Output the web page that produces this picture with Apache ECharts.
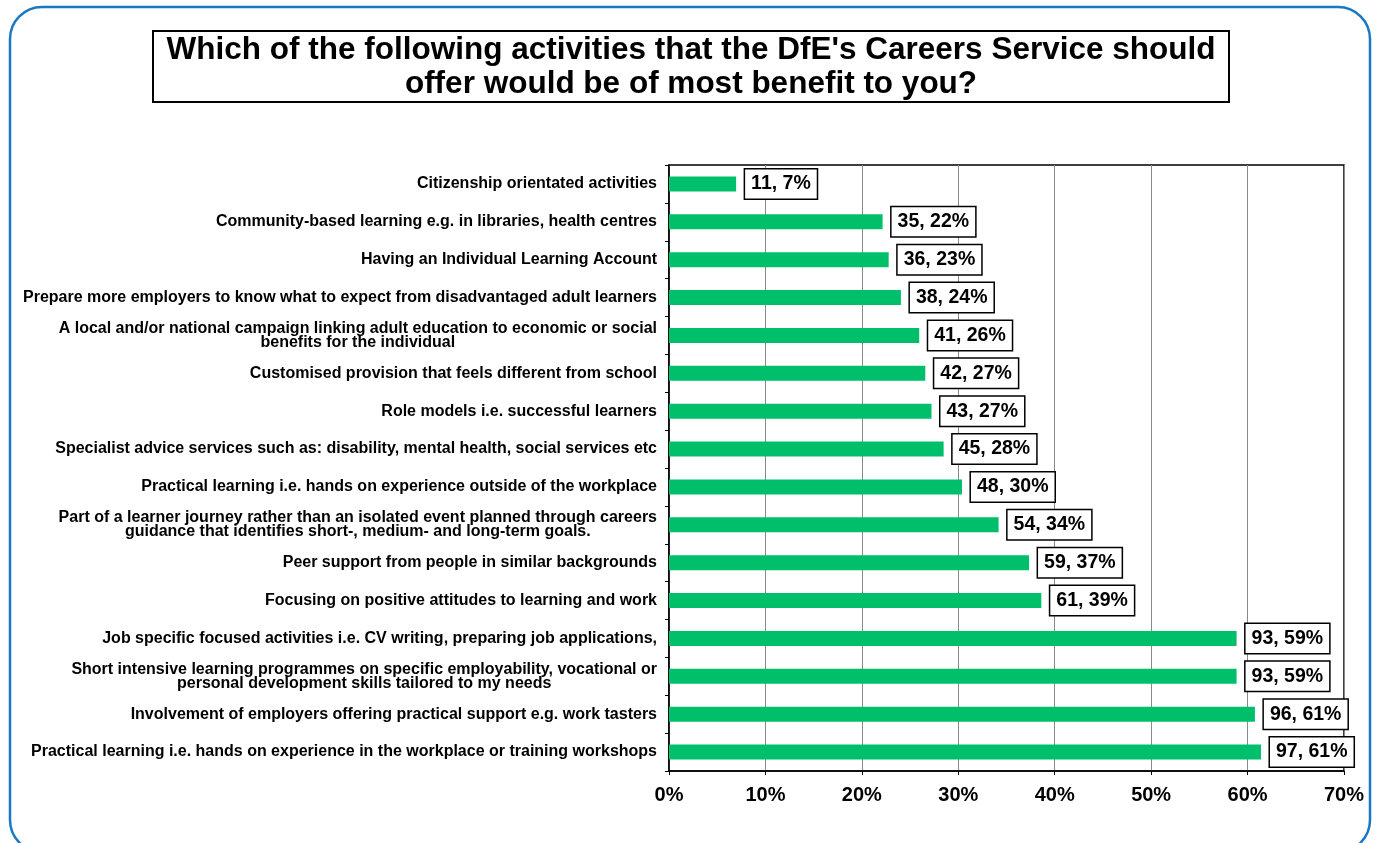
<!DOCTYPE html>
<html><head><meta charset="utf-8">
<script src="https://cdn.jsdelivr.net/npm/echarts@6/dist/echarts.min.js"></script>
<style>html,body{margin:0;padding:0;background:#fff}#c{width:1377px;height:843px}</style>
</head><body><div id="c"></div>
<script>
const categories = [
  "Citizenship orientated activities",
  "Community-based learning e.g. in libraries, health centres",
  "Having an Individual Learning Account",
  "Prepare more employers to know what to expect from disadvantaged adult learners",
  "A local and/or national campaign linking adult education to economic or social\nbenefits for the individual",
  "Customised provision that feels different from school",
  "Role models i.e. successful learners",
  "Specialist advice services such as: disability, mental health, social services etc",
  "Practical learning i.e. hands on experience outside of the workplace",
  "Part of a learner journey rather than an isolated event planned through careers\nguidance that identifies short-, medium- and long-term goals.",
  "Peer support from people in similar backgrounds",
  "Focusing on positive attitudes to learning and work",
  "Job specific focused activities i.e. CV writing, preparing job applications,",
  "Short intensive learning programmes on specific employability, vocational or\npersonal development skills tailored to my needs",
  "Involvement of employers offering practical support e.g. work tasters",
  "Practical learning i.e. hands on experience in the workplace or training workshops"
];
const counts = [11, 35, 36, 38, 41, 42, 43, 45, 48, 54, 59, 61, 93, 93, 96, 97];
const percents = [6.96, 22.15, 22.78, 24.05, 25.95, 26.58, 27.22, 28.48, 30.38, 34.18, 37.34, 38.61, 58.86, 58.86, 60.76, 61.39];
const labelTexts = ["11, 7%", "35, 22%", "36, 23%", "38, 24%", "41, 26%", "42, 27%", "43, 27%", "45, 28%", "48, 30%", "54, 34%", "59, 37%", "61, 39%", "93, 59%", "93, 59%", "96, 61%", "97, 61%"];
const xTicks = [0, 10, 20, 30, 40, 50, 60, 70];
const titleLines = ["Which of the following activities that the DfE's Careers Service should", "offer would be of most benefit to you?"];

const chart = echarts.init(document.getElementById('c'));
const FONT = '"Liberation Sans", Arial, Helvetica, sans-serif';
chart.setOption({
  animation: false,
  backgroundColor: '#fff',
  graphic: [{
    type: 'rect', silent: true, z: 100,
    shape: { x: 10, y: 7, width: 1360, height: 845, r: 32 },
    style: { fill: 'none', stroke: '#1878c6', lineWidth: 2.5 }
  }],
  title: {
    text: titleLines.map(s => '{t|' + s + '}').join('\n'),
    left: 153, top: 31,
    padding: [2, 8, 1, 8],
    borderColor: '#000', borderWidth: 2,
    textStyle: {
      width: 1060, fontFamily: FONT, fontWeight: 'bold', fontSize: 31.5, lineHeight: 34, color: '#000',
      rich: { t: { align: 'center', fontFamily: FONT, fontWeight: 'bold', fontSize: 31.5, lineHeight: 34, color: '#000' } }
    }
  },
  grid: { left: 669, right: 33, top: 165, bottom: 72, show: true, borderColor: '#000', borderWidth: 1.5 },
  xAxis: {
    type: 'value', min: 0, max: 70, interval: 10,
    axisLine: { show: true, lineStyle: { color: '#000', width: 1.5 } },
    axisTick: { show: true, length: 4, lineStyle: { color: '#000' } },
    splitLine: { show: true, lineStyle: { color: '#8a8a8a', width: 1 } },
    axisLabel: { formatter: v => v + '%', fontFamily: FONT, fontWeight: 'bold', fontSize: 20, color: '#000', margin: 14 }
  },
  yAxis: {
    type: 'category', inverse: true, data: categories,
    axisLine: { show: true, lineStyle: { color: '#000', width: 1.5 } },
    axisTick: { show: true, length: 4, lineStyle: { color: '#000' } },
    axisLabel: {
      fontFamily: FONT, fontWeight: 'bold', fontSize: 16, color: '#000', margin: 12, lineHeight: 14,
      formatter: v => v.split('\n').map(s => '{c|' + s + '}').join('\n'),
      rich: { c: { align: 'center', fontFamily: FONT, fontWeight: 'bold', fontSize: 16, lineHeight: 14, color: '#000' } }
    }
  },
  series: [{
    type: 'bar', data: percents, barWidth: 15,
    itemStyle: { color: '#00BF6A' },
    label: {
      show: true, position: 'right', distance: 9,
      formatter: p => labelTexts[p.dataIndex],
      fontFamily: FONT, fontWeight: 'bold', fontSize: 19.5, color: '#000',
      backgroundColor: '#fff', borderColor: '#000', borderWidth: 1.5,
      padding: [5, 6, 4, 6]
    }
  }]
});
</script></body></html>
